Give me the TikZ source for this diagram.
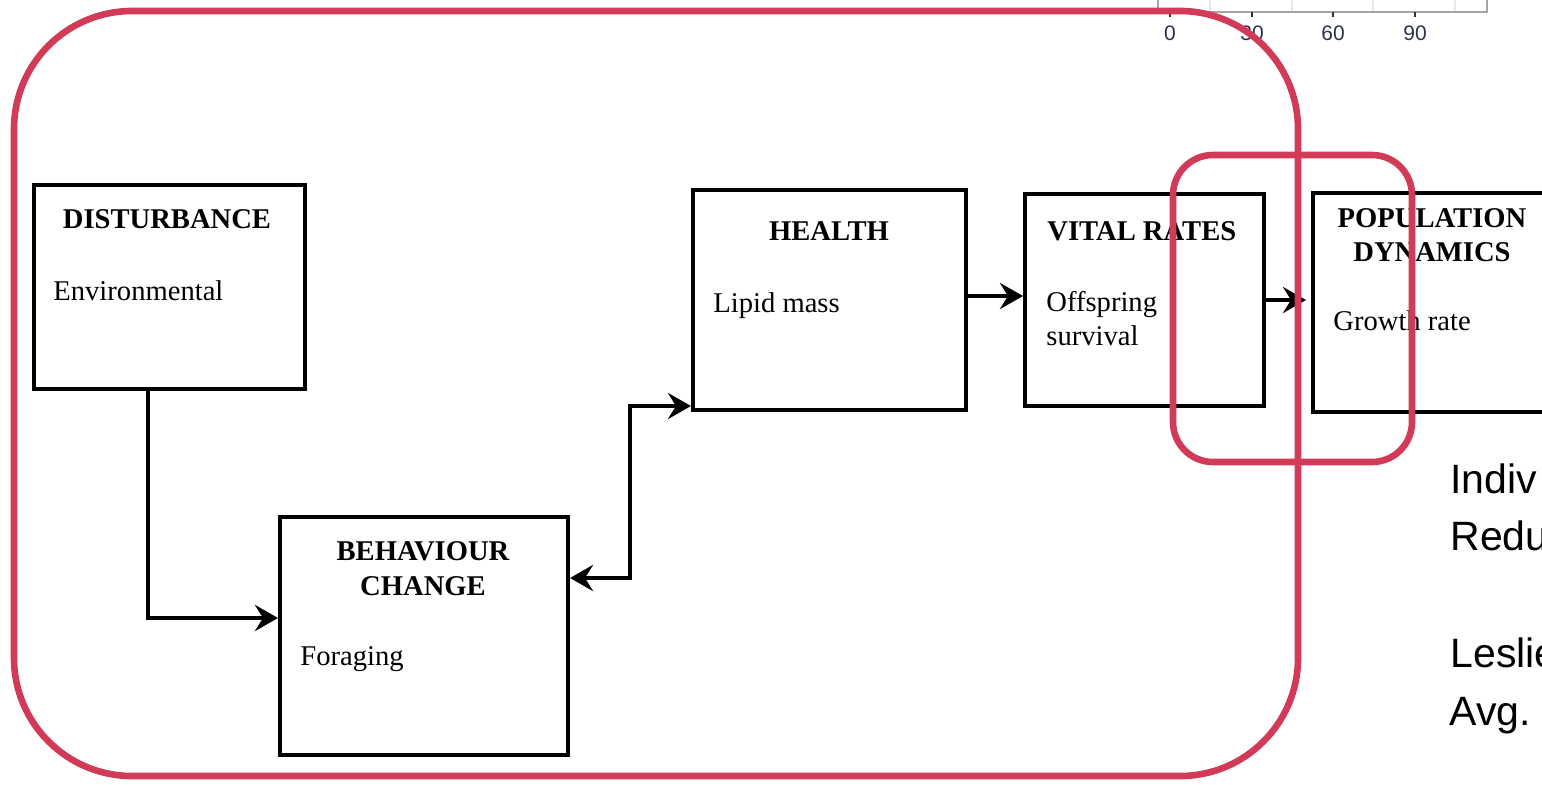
\documentclass[tikz,border=0pt]{standalone}
\usepackage{fontspec}
\setmainfont{Liberation Serif}
\newfontfamily\notesans{Liberation Sans}
\usetikzlibrary{arrows.meta}
\definecolor{framered}{RGB}{209,59,87}
\definecolor{axisgray}{RGB}{165,165,165}
\definecolor{gridgray}{RGB}{232,232,232}
\definecolor{ticklabel}{RGB}{45,50,70}
\begin{document}
\begin{tikzpicture}[x=0.5pt,y=-0.5pt,
  >={Stealth[length=11.5pt,width=13pt,inset=4pt]},
  box/.style={draw=black, line width=2pt, fill=white, inner sep=0pt, rectangle},
  title/.style={inner sep=0pt, font=\fontsize{14.3}{17}\selectfont\bfseries},
  desc/.style={inner sep=0pt, anchor=base west, font=\fontsize{14.3}{17}\selectfont},
  conn/.style={draw=black, line width=2pt},
  frame/.style={draw=framered, line width=3.3pt},
  note/.style={inner sep=0pt, anchor=base west, font=\notesans\fontsize{20.5}{24}\selectfont},
  tick/.style={inner sep=0pt, anchor=base, text=ticklabel, font=\notesans\fontsize{10.5}{12}\selectfont}]
\useasboundingbox (0,0) rectangle (1542,784);
\clip (0,0) rectangle (1542,784);

% corner of an axis panel at the top
\foreach \gx in {1210,1292,1373,1455}
  \draw[gridgray, line width=0.6pt] (\gx,-5) -- (\gx,12);
\draw[axisgray, line width=0.9pt] (1158,-5) -- (1158,12) -- (1487,12) -- (1487,-5);
\foreach \tx/\tl in {1170/0,1252/30,1333/60,1415/90} {
  \draw[ticklabel, line width=0.8pt] (\tx,12) -- (\tx,17);
  \node[tick] (tick\tl) at (\tx,40) {\tl};
}

% boxes
\node[box, minimum width=135.5pt, minimum height=102pt] (dist) at (169.5,287) {};
\node[box, minimum width=144pt, minimum height=119pt] (beh) at (424,636) {};
\node[box, minimum width=136.5pt, minimum height=110pt] (hea) at (829.5,300) {};
\node[box, minimum width=119.5pt, minimum height=106pt] (vit) at (1144.5,300) {};
\node[box, minimum width=120pt, minimum height=109.5pt] (pop) at (1433,302.5) {};

% box texts
\node[title, anchor=base] (distT) at (167,228) {DISTURBANCE};
\node[desc] (distD) at (53,300) {Environmental};

\node[title, anchor=base] (behT1) at (423,560) {BEHAVIOUR};
\node[title, anchor=base] (behT2) at (423,595) {CHANGE};
\node[desc] (behD) at (300,665) {Foraging};

\node[title, anchor=base] (heaT) at (829,240) {HEALTH};
\node[desc] (heaD) at (713,312) {Lipid mass};

\node[title, anchor=base west] (vitT) at (1047,240) {VITAL RATES};
\node[desc] (vitD1) at (1046,311) {Offspring};
\node[desc] (vitD2) at (1046,345) {survival};

\node[title, anchor=base] (popT1) at (1432,227) {POPULATION};
\node[title, anchor=base] (popT2) at (1432,261) {DYNAMICS};
\node[desc] (popD) at (1333,330) {Growth rate};

% connectors
\coordinate (bendA) at (148,618);
\draw[conn, ->] (dist.south -| bendA) -- (bendA) -- (beh.west |- bendA);

\coordinate (bendB) at (630,578);
\coordinate (bendC) at (630,406);
\draw[conn, <->] (beh.east |- bendB) -- (bendB) -- (bendC) -- (hea.west |- bendC);

\coordinate (levelA) at (0,296);
\draw[conn, ->] (hea.east |- levelA) -- (vit.west |- levelA);

\coordinate (levelB) at (0,300);
\draw[conn, ->, shorten >=2.5pt] (vit.east |- levelB) -- (pop.west |- levelB);

% notes at the right, running past the page edge
\node[note] (noteA) at (1450,493) {Indiv};
\node[note] (noteB) at (1450,550) {Redu};
\node[note] (noteC) at (1450,667) {Leslie};
\node[note] (noteD) at (1449,725) {Avg.};

% highlight frames
\draw[frame, rounded corners=59pt] (14,11) rectangle (1298,776);
\draw[frame, rounded corners=20pt] (1173,155) rectangle (1412,462);
\end{tikzpicture}
\end{document}
